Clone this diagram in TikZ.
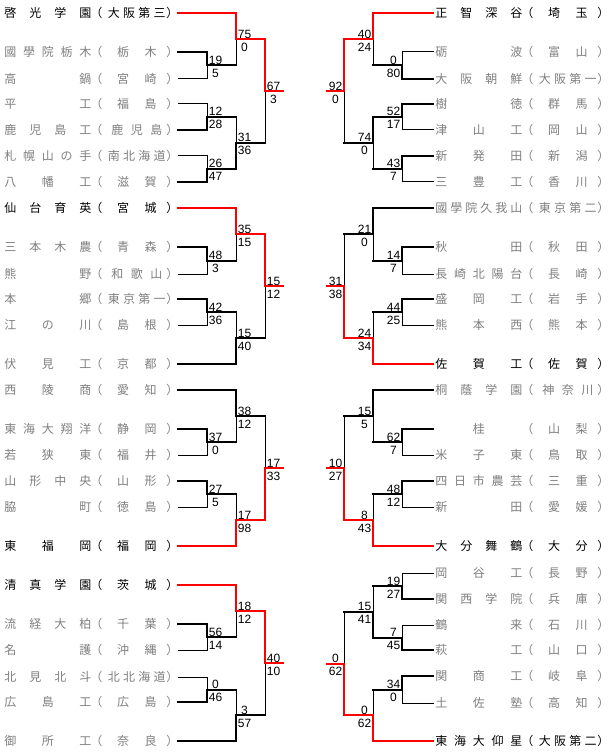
\documentclass[tikz,border=0pt]{standalone}
\usepackage{fontspec}
\newfontfamily\jpf{Noto Sans CJK JP}
\newfontfamily\numf{Liberation Sans}
\usetikzlibrary{calc}
\definecolor{tgray}{RGB}{128,128,128}
\tikzset{
  thinln/.style={line width=0.75pt, black, line cap=rect},
  thkln/.style={line width=1.5pt, black, line cap=rect},
  redln/.style={line width=1.5pt, red, line cap=rect},
  jch/.style={font=\jpf\fontsize{9pt}{9pt}\selectfont, inner sep=0pt, anchor=base west},
  scr/.style={font=\numf\fontsize{9pt}{9pt}\selectfont, inner sep=0pt, anchor=base},
}
% team: #1 id, #2 xoff, #3 y, #4 name chars, #5 prefecture chars, #6 colour
\newcommand\team[6]{%
  \foreach \ch [count=\nk] in {#4} {\xdef\nn{\nk}}
  \foreach \ch [count=\ii from 0] in {#4} {
    \pgfmathsetmacro\xx{\nn==1 ? #2+41.5 : #2+4+\ii*75/max(\nn-1,1)}
    \node[jch, text=#6] (#1n\ii) at (\xx, #3+4.6) {\ch};
  }
  \node[jch, text=#6] (#1lp) at (#2+90, #3+4.6) {（};
  \foreach \ch [count=\nk] in {#5} {\xdef\nn{\nk}}
  \foreach \ch [count=\ii from 0] in {#5} {
    \pgfmathsetmacro\pp{\nn==2 ? 27.5 : (\nn==3 ? 19.5 : 15.3)}
    \pgfmathsetmacro\xx{#2+130.5+(\ii-(\nn-1)/2)*\pp}
    \node[jch, text=#6] (#1p\ii) at (\xx, #3+4.6) {\ch};
  }
  \node[jch, text=#6] (#1rp) at (#2+166, #3+4.6) {）};
  \pgfmathsetmacro\xs{#2==0 ? 178 : 433}
  \coordinate (#1) at (\xs, #3);
}
\newcommand\scores[4]{%
  \pgfmathsetmacro\dx{#2>300 ? -8.5 : 8.5}
  \node[scr] (#1s1) at ($(#1)+(\dx,-1)$) {#3};
  \node[scr] (#1s2) at ($(#1)+(\dx,12)$) {#4};
}
% match: #1 id, #2 top in, #3 bottom in, #4 joint x, #5 top style, #6 bottom style, #7 t/b winner, #8 winner style, #9 {s1}{s2}
\newcommand\match[9]{%
  \coordinate (#1a) at (#4,0 |- #2);
  \coordinate (#1b) at (#4,0 |- #3);
  \coordinate (#1) at ($(#1a)!0.5!(#1b)$);
  \draw[#5] (#2) -- (#1a);
  \draw[#6] (#3) -- (#1b);
  \if#7t
    \draw[thinln] (#1b) -- (#1);
    \draw[#8] (#1a) -- (#1);
  \else
    \draw[thinln] (#1a) -- (#1);
    \draw[#8] (#1b) -- (#1);
  \fi
  \scores{#1}{#4}#9
}
\begin{document}
\begin{tikzpicture}[x=0.75pt,y=-0.75pt]
\fill[white] (0,0) rectangle (610,755);
\useasboundingbox (0,0) rectangle (610,755);
% ---------- left teams
\team{l1}{0}{13}{啓,光,学,園}{大,阪,第,三}{black}
\team{l2}{0}{52}{國,學,院,栃,木}{栃,木}{tgray}
\team{l3}{0}{79}{高,鍋}{宮,崎}{tgray}
\team{l4}{0}{104}{平,工}{福,島}{tgray}
\team{l5}{0}{130}{鹿,児,島,工}{鹿,児,島}{tgray}
\team{l6}{0}{156}{札,幌,山,の,手}{南,北,海,道}{tgray}
\team{l7}{0}{182}{八,幡,工}{滋,賀}{tgray}
\team{l8}{0}{208}{仙,台,育,英}{宮,城}{black}
\team{l9}{0}{247}{三,本,木,農}{青,森}{tgray}
\team{l10}{0}{274}{熊,野}{和,歌,山}{tgray}
\team{l11}{0}{299}{本,郷}{東,京,第,一}{tgray}
\team{l12}{0}{325}{江,の,川}{島,根}{tgray}
\team{l13}{0}{364}{伏,見,工}{京,都}{tgray}
\team{l14}{0}{390}{西,陵,商}{愛,知}{tgray}
\team{l15}{0}{429}{東,海,大,翔,洋}{静,岡}{tgray}
\team{l16}{0}{455}{若,狭,東}{福,井}{tgray}
\team{l17}{0}{481}{山,形,中,央}{山,形}{tgray}
\team{l18}{0}{507}{脇,町}{徳,島}{tgray}
\team{l19}{0}{546}{東,福,岡}{福,岡}{black}
\team{l20}{0}{585}{清,真,学,園}{茨,城}{black}
\team{l21}{0}{624}{流,経,大,柏}{千,葉}{tgray}
\team{l22}{0}{650}{名,護}{沖,縄}{tgray}
\team{l23}{0}{677}{北,見,北,斗}{北,北,海,道}{tgray}
\team{l24}{0}{702}{広,島,工}{広,島}{tgray}
\team{l25}{0}{741}{御,所,工}{奈,良}{tgray}
% ---------- right teams
\team{r1}{431}{13}{正,智,深,谷}{埼,玉}{black}
\team{r2}{431}{52}{砺,波}{富,山}{tgray}
\team{r3}{431}{79}{大,阪,朝,鮮}{大,阪,第,一}{tgray}
\team{r4}{431}{104}{樹,徳}{群,馬}{tgray}
\team{r5}{431}{130}{津,山,工}{岡,山}{tgray}
\team{r6}{431}{156}{新,発,田}{新,潟}{tgray}
\team{r7}{431}{182}{三,豊,工}{香,川}{tgray}
\team{r8}{431}{208}{國,學,院,久,我,山}{東,京,第,二}{tgray}
\team{r9}{431}{247}{秋,田}{秋,田}{tgray}
\team{r10}{431}{274}{長,崎,北,陽,台}{長,崎}{tgray}
\team{r11}{431}{299}{盛,岡,工}{岩,手}{tgray}
\team{r12}{431}{325}{熊,本,西}{熊,本}{tgray}
\team{r13}{431}{364}{佐,賀,工}{佐,賀}{black}
\team{r14}{431}{390}{桐,蔭,学,園}{神,奈,川}{tgray}
\team{r15}{431}{429}{桂}{山,梨}{tgray}
\team{r16}{431}{455}{米,子,東}{鳥,取}{tgray}
\team{r17}{431}{481}{四,日,市,農,芸}{三,重}{tgray}
\team{r18}{431}{507}{新,田}{愛,媛}{tgray}
\team{r19}{431}{546}{大,分,舞,鶴}{大,分}{black}
\team{r20}{431}{573}{岡,谷,工}{長,野}{tgray}
\team{r21}{431}{599}{関,西,学,院}{兵,庫}{tgray}
\team{r22}{431}{625}{鶴,来}{石,川}{tgray}
\team{r23}{431}{650}{萩,工}{山,口}{tgray}
\team{r24}{431}{676}{関,商,工}{岐,阜}{tgray}
\team{r25}{431}{703}{土,佐,塾}{高,知}{tgray}
\team{r26}{431}{741}{東,海,大,仰,星}{大,阪,第,二}{black}
% ---------- left matches
\match{lm1}{l2}{l3}{207}{thkln}{thinln}{t}{thkln}{{19}{5}}
\match{lm2}{l4}{l5}{207}{thinln}{thkln}{b}{thkln}{{12}{28}}
\match{lm3}{l6}{l7}{207}{thinln}{thkln}{b}{thkln}{{26}{47}}
\match{lm4}{l1}{lm1}{236}{redln}{thkln}{t}{redln}{{75}{0}}
\match{lm5}{lm2}{lm3}{236}{thkln}{thkln}{b}{thkln}{{31}{36}}
\match{lm6}{lm4}{lm5}{265}{redln}{thkln}{t}{redln}{{67}{3}}
\match{lm7}{l9}{l10}{207}{thkln}{thinln}{t}{thkln}{{48}{3}}
\match{lm8}{l11}{l12}{207}{thkln}{thinln}{t}{thkln}{{42}{36}}
\match{lm9}{l8}{lm7}{236}{redln}{thkln}{t}{redln}{{35}{15}}
\match{lm10}{lm8}{l13}{236}{thkln}{thkln}{b}{thkln}{{15}{40}}
\match{lm11}{lm9}{lm10}{265}{redln}{thkln}{t}{redln}{{15}{12}}
\match{lm12}{l15}{l16}{207}{thkln}{thinln}{t}{thkln}{{37}{0}}
\match{lm13}{l17}{l18}{207}{thkln}{thinln}{t}{thkln}{{27}{5}}
\match{lm14}{l14}{lm12}{236}{thkln}{thkln}{t}{thkln}{{38}{12}}
\match{lm15}{lm13}{l19}{236}{thkln}{redln}{b}{redln}{{17}{98}}
\match{lm16}{lm14}{lm15}{265}{thkln}{redln}{b}{redln}{{17}{33}}
\match{lm17}{l21}{l22}{207}{thkln}{thinln}{t}{thkln}{{56}{14}}
\match{lm18}{l23}{l24}{207}{thinln}{thkln}{b}{thkln}{{0}{46}}
\match{lm19}{l20}{lm17}{236}{redln}{thkln}{t}{redln}{{18}{12}}
\match{lm20}{lm18}{l25}{236}{thkln}{thkln}{b}{thkln}{{3}{57}}
\match{lm21}{lm19}{lm20}{265}{redln}{thkln}{t}{redln}{{40}{10}}
% ---------- right matches
\match{rm1}{r2}{r3}{402}{thinln}{thkln}{b}{thkln}{{0}{80}}
\match{rm2}{r4}{r5}{402}{thkln}{thinln}{t}{thkln}{{52}{17}}
\match{rm3}{r6}{r7}{402}{thkln}{thinln}{t}{thkln}{{43}{7}}
\match{rm4}{r1}{rm1}{373}{redln}{thkln}{t}{redln}{{40}{24}}
\match{rm5}{rm2}{rm3}{373}{thkln}{thkln}{t}{thkln}{{74}{0}}
\match{rm6}{rm4}{rm5}{344}{redln}{thkln}{t}{redln}{{92}{0}}
\match{rm7}{r9}{r10}{402}{thkln}{thinln}{t}{thkln}{{14}{7}}
\match{rm8}{r11}{r12}{402}{thkln}{thinln}{t}{thkln}{{44}{25}}
\match{rm9}{r8}{rm7}{373}{thkln}{thkln}{t}{thkln}{{21}{0}}
\match{rm10}{rm8}{r13}{373}{thkln}{redln}{b}{redln}{{24}{34}}
\match{rm11}{rm9}{rm10}{344}{thkln}{redln}{b}{redln}{{31}{38}}
\match{rm12}{r15}{r16}{402}{thkln}{thinln}{t}{thkln}{{62}{7}}
\match{rm13}{r17}{r18}{402}{thkln}{thinln}{t}{thkln}{{48}{12}}
\match{rm14}{r14}{rm12}{373}{thkln}{thkln}{t}{thkln}{{15}{5}}
\match{rm15}{rm13}{r19}{373}{thkln}{redln}{b}{redln}{{8}{43}}
\match{rm16}{rm14}{rm15}{344}{thkln}{redln}{b}{redln}{{10}{27}}
\match{rm17}{r20}{r21}{402}{thinln}{thkln}{b}{thkln}{{19}{27}}
\match{rm18}{r22}{r23}{402}{thinln}{thkln}{b}{thkln}{{7}{45}}
\match{rm19}{r24}{r25}{402}{thkln}{thinln}{t}{thkln}{{34}{0}}
\match{rm20}{rm17}{rm18}{373}{thkln}{thkln}{b}{thkln}{{15}{41}}
\match{rm21}{rm19}{r26}{373}{thkln}{redln}{b}{redln}{{0}{62}}
\match{rm22}{rm20}{rm21}{344}{thkln}{redln}{b}{redln}{{0}{62}}
% ---------- final red ends
\coordinate (lf1) at ($(lm6)+(18,0)$);
\coordinate (lf2) at ($(lm11)+(18,0)$);
\coordinate (lf3) at ($(lm16)+(18,0)$);
\coordinate (lf4) at ($(lm21)+(18,0)$);
\coordinate (rf1) at ($(rm6)+(-17,0)$);
\coordinate (rf2) at ($(rm11)+(-17,0)$);
\coordinate (rf3) at ($(rm16)+(-17,0)$);
\coordinate (rf4) at ($(rm22)+(-17,0)$);
\draw[redln] (lm6) -- (lf1);
\draw[redln] (lm11) -- (lf2);
\draw[redln] (lm16) -- (lf3);
\draw[redln] (lm21) -- (lf4);
\draw[redln] (rm6) -- (rf1);
\draw[redln] (rm11) -- (rf2);
\draw[redln] (rm16) -- (rf3);
\draw[redln] (rm22) -- (rf4);
\end{tikzpicture}
\end{document}
